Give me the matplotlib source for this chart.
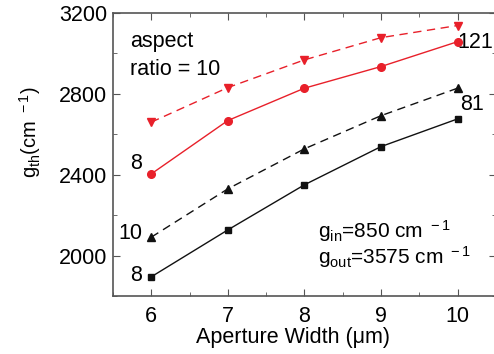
import matplotlib.pyplot as plt
from matplotlib.ticker import MultipleLocator

plt.rcParams['font.family'] = ['Liberation Sans', 'DejaVu Sans']
plt.rcParams['mathtext.fontset'] = 'custom'
plt.rcParams['mathtext.rm'] = 'Liberation Sans'
plt.rcParams['mathtext.it'] = 'Liberation Sans:italic'

width = [6, 7, 8, 9, 10]
g_sq = [1895, 2127, 2350, 2539, 2676]      # black squares, solid
g_tri = [2091, 2330, 2528, 2692, 2828]     # black triangles, dashed
g_circ = [2404, 2668, 2828, 2935, 3058]    # red circles, solid
g_tdown = [2660, 2831, 2968, 3078, 3138]   # red down-triangles, dashed

red = '#e8202a'
fs = 15.5

fig = plt.figure(figsize=(4.94, 3.54), dpi=100)
ax = fig.add_axes([0.2287, 0.1638, 0.775, 0.7995])

ax.plot(width, g_sq, '-', color='#111111', marker='s', ms=5, lw=1)
ax.plot(width, g_tri, '--', color='#111111', marker='^', ms=6, lw=1, dashes=(6, 4))
ax.plot(width, g_circ, '-', color=red, marker='o', ms=5.5, lw=1)
ax.plot(width, g_tdown, '--', color=red, marker='v', ms=6, lw=1, dashes=(6, 4))

ax.set_xlim(5.5, 10.5)
ax.set_ylim(1800, 3200)
ax.xaxis.set_major_locator(MultipleLocator(1))
ax.xaxis.set_minor_locator(MultipleLocator(0.5))
ax.yaxis.set_major_locator(MultipleLocator(400))
ax.yaxis.set_minor_locator(MultipleLocator(200))
ax.tick_params(which='both', direction='in', top=True, right=True,
               labelsize=fs, color='#555555')
ax.tick_params(axis='x', pad=7)
ax.tick_params(axis='y', pad=4)
ax.tick_params(which='major', length=5)
ax.tick_params(which='minor', length=3)
for s in ax.spines.values():
    s.set_color('#555555')
    s.set_linewidth(1.2)

ax.set_xlabel('Aperture Width (μm)', fontsize=fs, labelpad=0)
ax.xaxis.set_label_coords(0.471, -0.108)
ax.set_ylabel(r'g$_{\rm th}$(cm $^{\rm -1}$)', fontsize=14.5)
ax.yaxis.set_label_coords(-0.182, 0.58)

ax.text(5.72, 3110, 'aspect\nratio = 10', fontsize=fs, va='top', linespacing=1.45)
ax.text(10.0, 3055, '121', fontsize=fs, va='center')
ax.text(10.04, 2745, '81', fontsize=fs, va='center')
ax.text(5.88, 2455, '8', fontsize=fs, ha='right', va='center')
ax.text(5.88, 2110, '10', fontsize=fs, ha='right', va='center')
ax.text(5.88, 1900, '8', fontsize=fs, ha='right', va='center')
ax.text(8.18, 2090, r'g$_{\rm in}$=850 cm $^{\rm -1}$', fontsize=15)
ax.text(8.18, 1960, r'g$_{\rm out}$=3575 cm $^{\rm -1}$', fontsize=15)

fig.savefig('out.png', dpi=100)
